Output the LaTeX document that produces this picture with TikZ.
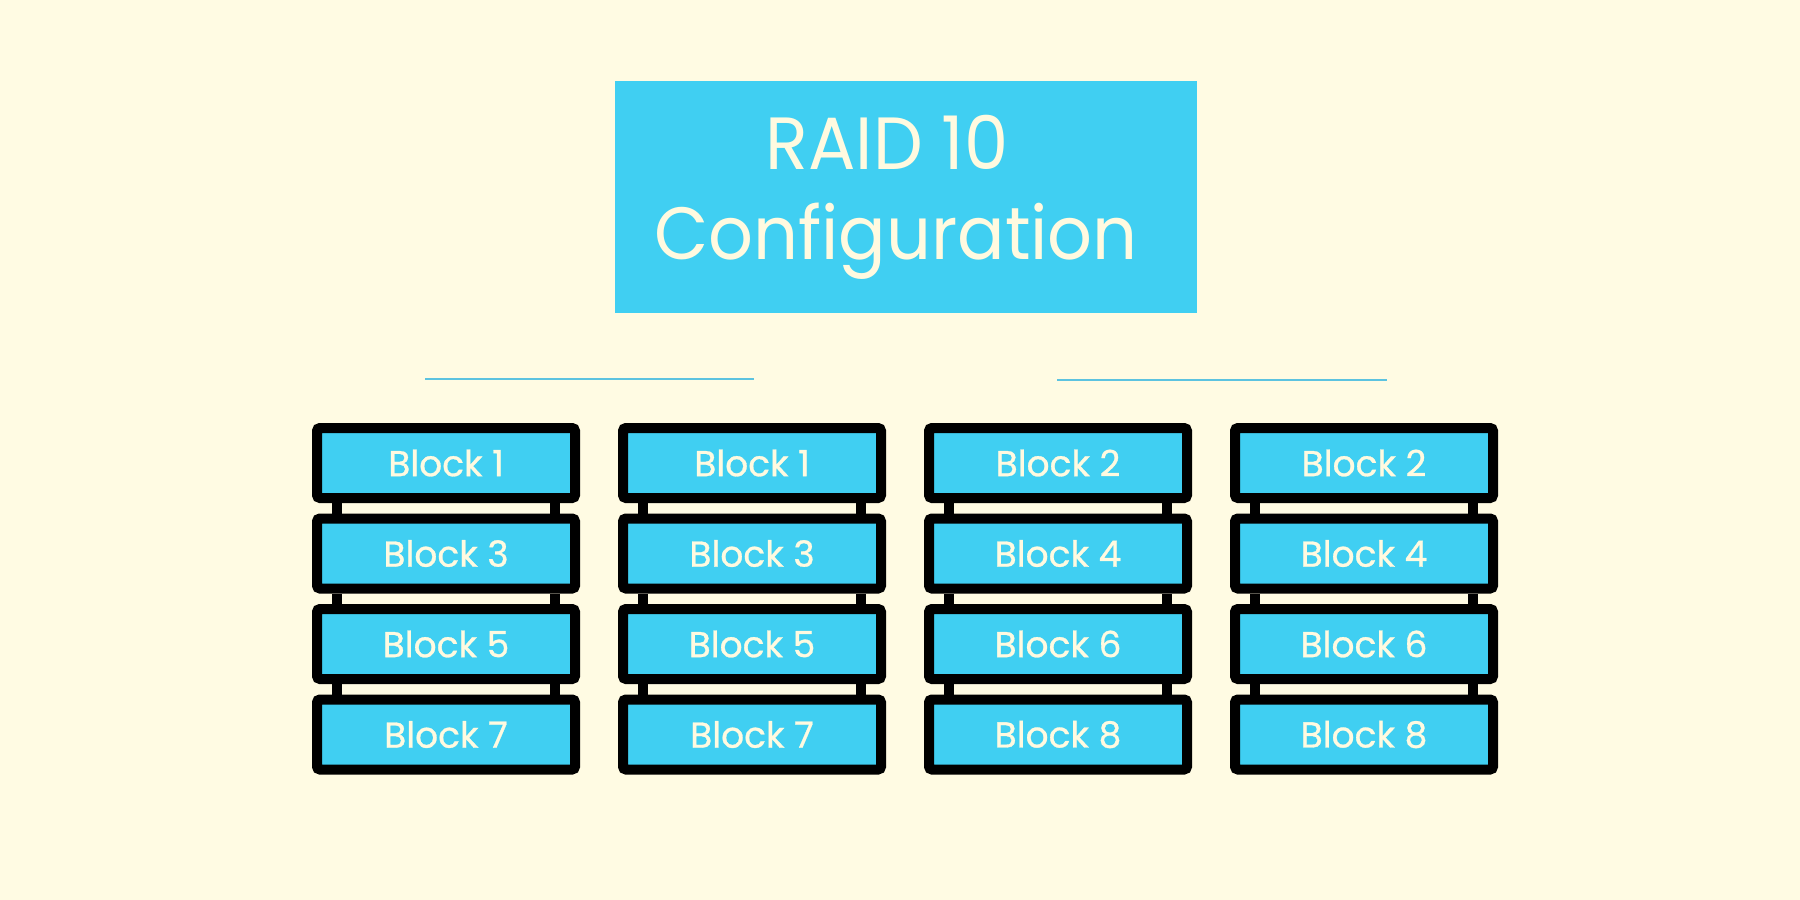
\documentclass[tikz,border=0pt]{standalone}
\usepackage{fontspec}
\setmainfont{Poppins}
\newfontfamily\blockfont[FakeBold=0.8]{Poppins}
\newfontfamily\titlefont[FakeStretch=0.95]{Poppins}
\usetikzlibrary{calc}
\definecolor{bgcream}{HTML}{FFFBE3}
\definecolor{boxblue}{HTML}{40CFF2}
\definecolor{txtcream}{HTML}{FFFAE0}
\definecolor{lineblue}{HTML}{5CC3E0}
\tikzset{
  blk/.style={draw=black, line width=10pt, rounded corners=3pt, fill=boxblue,
    minimum width=258pt, minimum height=70pt, inner sep=0pt,
    text=txtcream, font=\blockfont\fontsize{36}{40}\selectfont},
  post/.style={draw=black, line width=10pt},
  titlebox/.style={fill=boxblue, minimum width=582pt, minimum height=232pt, inner sep=0pt,
    text=txtcream, align=center, font=\titlefont\fontsize{74}{90}\selectfont},
  sepline/.style={draw=lineblue, line width=1.8pt}
}
\begin{document}
\begin{tikzpicture}[x=1pt,y=-1pt]
\fill[bgcream] (0,0) rectangle (1800,900);
\useasboundingbox (0,0) rectangle (1800,900);

\node[titlebox] (title) at (906,197) {RAID 10\hspace*{38pt}\\Configuration\hspace*{20pt}};

\coordinate (l1a) at (425,379);
\coordinate (l1b) at (754,379);
\coordinate (l2a) at (1057,380);
\coordinate (l2b) at (1387,380);
\draw[sepline] (l1a) -- (l1b);
\draw[sepline] (l2a) -- (l2b);

% column 1
\node[blk] (a1) at (446,463) {Block 1};
\node[blk] (a2) at (446,553.5) {Block 3};
\node[blk] (a3) at (446,644) {Block 5};
\node[blk] (a4) at (446,734.5) {Block 7};
% column 2
\node[blk] (b1) at (752,463) {Block 1};
\node[blk] (b2) at (752,553.5) {Block 3};
\node[blk] (b3) at (752,644) {Block 5};
\node[blk] (b4) at (752,734.5) {Block 7};
% column 3
\node[blk] (c1) at (1058,463) {Block 2};
\node[blk] (c2) at (1058,553.5) {Block 4};
\node[blk] (c3) at (1058,644) {Block 6};
\node[blk] (c4) at (1058,734.5) {Block 8};
% column 4
\node[blk] (d1) at (1364,463) {Block 2};
\node[blk] (d2) at (1364,553.5) {Block 4};
\node[blk] (d3) at (1364,644) {Block 6};
\node[blk] (d4) at (1364,734.5) {Block 8};

\foreach \c in {a,b,c,d}{
  \foreach \i/\j in {1/2,2/3,3/4}{
    \draw[post] ([xshift=-109pt]\c\i.south) -- ([xshift=-109pt]\c\j.north);
    \draw[post] ([xshift=109pt]\c\i.south) -- ([xshift=109pt]\c\j.north);
  }
}
\end{tikzpicture}
\end{document}
